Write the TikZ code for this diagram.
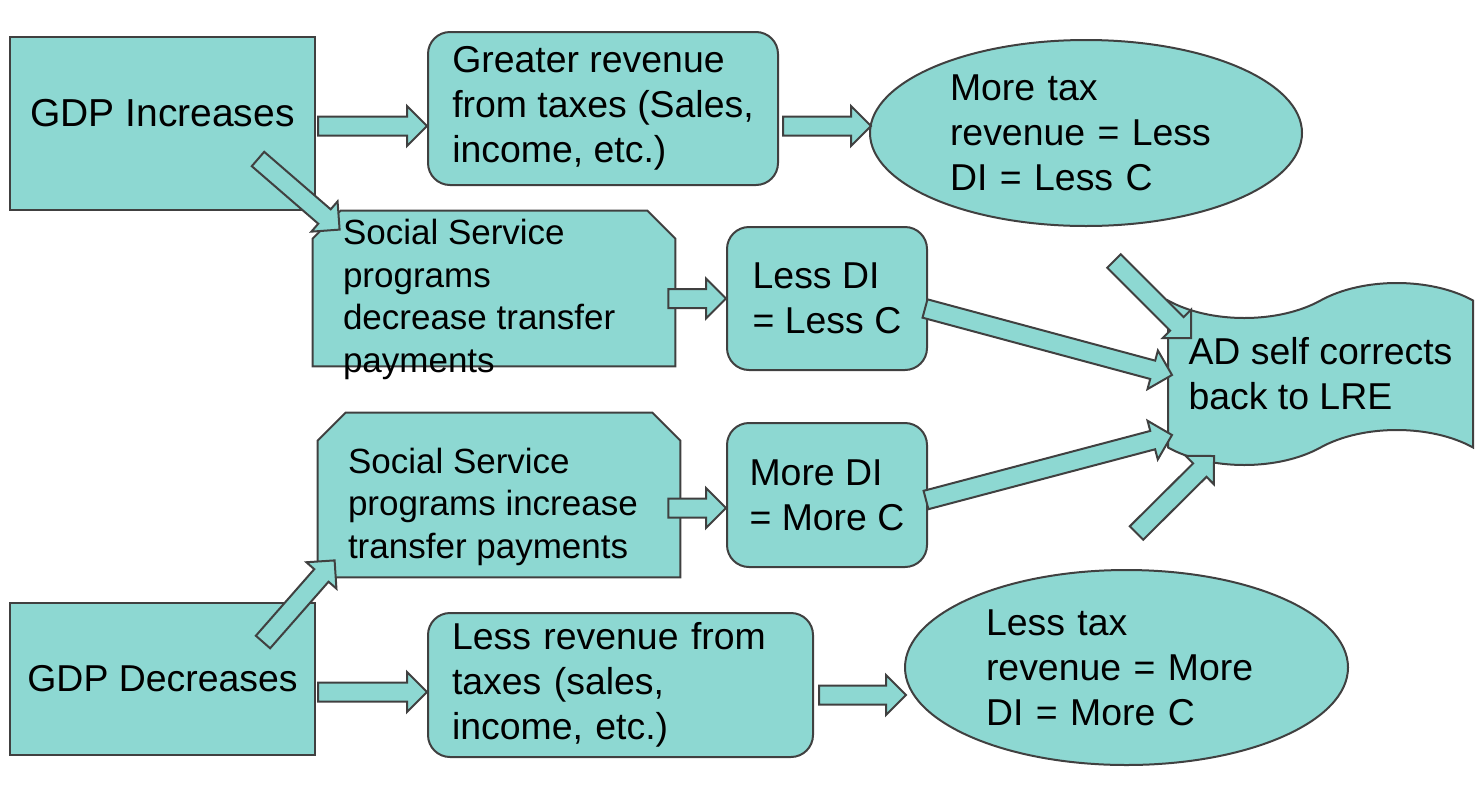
\documentclass[tikz,border=0pt]{standalone}
\usepackage{fontspec}
\setmainfont{Liberation Sans}
\usetikzlibrary{calc,shapes.geometric,shapes.symbols}
\definecolor{boxfill}{HTML}{8DD8D2}
\definecolor{boxline}{HTML}{404040}
\newcommand{\shaftw}{4.75pt}
\newcommand{\headw}{10pt}
\newcommand{\headl}{10pt}
% fat arrow between two points
\newcommand{\blockarrow}[2]{%
  \draw[barrow] let \p1=#1, \p2=#2, \n1={atan2(\y2-\y1,\x2-\x1)} in
    ($(\p1)+(\n1+90:\shaftw)$) -- ($(\p2)+(\n1+180:\headl)+(\n1+90:\shaftw)$)
    -- ($(\p2)+(\n1+180:\headl)+(\n1+90:\headw)$) -- (\p2)
    -- ($(\p2)+(\n1+180:\headl)+(\n1-90:\headw)$)
    -- ($(\p2)+(\n1+180:\headl)+(\n1-90:\shaftw)$)
    -- ($(\p1)+(\n1-90:\shaftw)$) -- cycle;}
% box with both top corners cut off
\newcommand{\snipoutline}[1]{%
  \draw[barrow] (#1.south west) -- ($(#1.north west)+(0,28)$) -- ($(#1.north west)+(28,0)$)
    -- ($(#1.north east)+(-28,0)$) -- ($(#1.north east)+(0,28)$) -- (#1.south east) -- cycle;}

\begin{document}
\begin{tikzpicture}[
  x=0.5pt, y=-0.5pt,
  font=\fontsize{18.7pt}{22.5pt}\selectfont,
  shapebase/.style={draw=boxline, fill=boxfill, line width=1pt, inner sep=0pt, align=left},
  box/.style={shapebase, rectangle},
  rbox/.style={shapebase, rectangle, rounded corners=11pt},
  oval/.style={shapebase, ellipse},
  snip/.style={rectangle, inner sep=0pt},
  sstext/.style={anchor=west, inner sep=0pt, align=left, font=\fontsize{17.5pt}{21.25pt}\selectfont},
  banner/.style={shapebase, tape, tape bend height=17.5pt},
  barrow/.style={draw=boxline, fill=boxfill, line width=1pt}
]
\useasboundingbox (0,0) rectangle (1482,798);

\node[box, minimum width=152.5pt, minimum height=86.5pt, text depth=11pt, font=\fontsize{19.5pt}{22.5pt}\selectfont] (gdpinc) at (162.5,123.5) {GDP Increases};
\node[rbox, minimum width=175pt, minimum height=76.5pt] (greater) at (603,108.5) {Greater revenue\\from taxes (Sales,\\income, etc.)};
\node[oval, minimum width=216pt, minimum height=93pt, text width=136pt] (moretax) at (1086,133) {More tax\\revenue = Less\\DI = Less C};

\node[snip, minimum width=181pt, minimum height=77.5pt] (socdec) at (494,288.5) {};
\snipoutline{socdec}
\node[sstext] (socdectext) at ($(socdec.west)+(30,11)$) {Social Service\\programs\\decrease transfer\\payments};

\node[rbox, minimum width=100pt, minimum height=71.5pt] (lessdi) at (827,298.5) {Less DI\\= Less C};

\node[snip, minimum width=181pt, minimum height=82pt] (socinc) at (499,495) {};
\snipoutline{socinc}
\node[sstext] (socinctext) at ($(socinc.west)+(30,11.5)$) {Social Service\\programs increase\\transfer payments};

\node[rbox, minimum width=100pt, minimum height=72pt] (moredi) at (827,495) {More DI\\= More C};
\node[box, minimum width=152.5pt, minimum height=76pt] (gdpdec) at (162.5,679) {GDP Decreases};
\node[rbox, minimum height=72pt, text width=168.5pt, inner xsep=12pt] (lessrev) at (620.5,685) {Less revenue from\\taxes (sales,\\income, etc.)};
\node[oval, minimum width=221.5pt, minimum height=97.5pt, text width=140.5pt] (lesstax) at (1126.5,667.5) {Less tax\\revenue = More\\DI = More C};
\node[banner, minimum width=152.5pt, minimum height=91pt] (ad) at (1320.5,374) {AD self corrects\\back to LRE};

\blockarrow{($(gdpinc.east)+(2,2.5)$)}{($(greater.west)+(0,17.5)$)}
\blockarrow{($(greater.east)+(4,17.5)$)}{($(moretax.west)+(2,-7)$)}
\blockarrow{($(gdpinc.south east)+(-58,-52)$)}{($(socdec.north west)+(27,19)$)}
\blockarrow{($(socdec.east |- lessdi.west)+(-7,0)$)}{(lessdi.west)}
\blockarrow{($(lessdi.east)+(-3,10)$)}{($(ad.west)+(5,1)$)}
\blockarrow{($(moretax.south)+(28,34)$)}{($(ad.west)+(24,-36)$)}
\blockarrow{($(moredi.east)+(-2,5)$)}{($(ad.west)+(5,61)$)}
\blockarrow{($(socinc.east |- moredi.west)+(-12,13)$)}{($(moredi.west)+(0,13)$)}
\blockarrow{($(gdpdec.north east)+(-53,40)$)}{($(socinc.south west)+(17,-17)$)}
\blockarrow{($(gdpdec.east)+(2,13)$)}{($(lessrev.west)+(0,7)$)}
\blockarrow{($(lessrev.east)+(5,10)$)}{($(lesstax.west)+(2,27.5)$)}
\blockarrow{($(lesstax.north)+(10,-36)$)}{($(ad.west)+(47,82)$)}

\end{tikzpicture}
\end{document}
